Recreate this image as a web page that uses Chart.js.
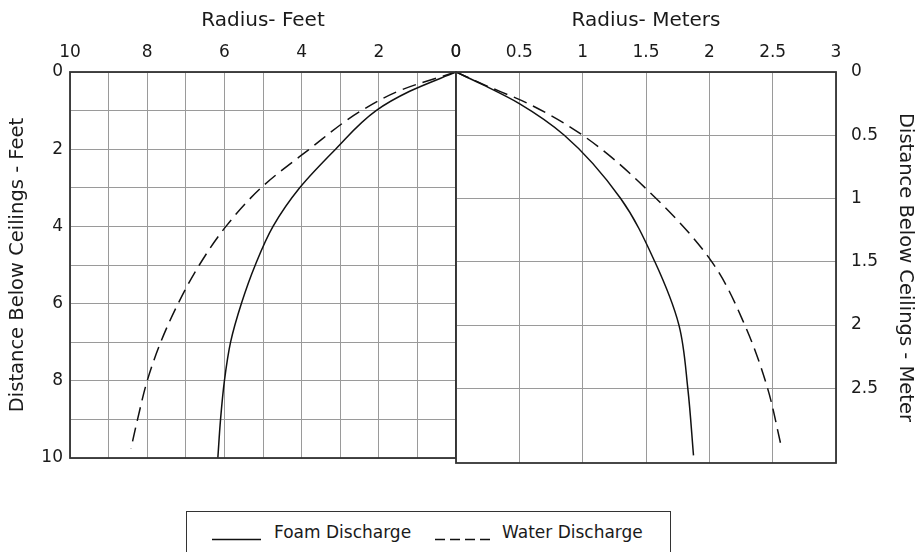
<!DOCTYPE html>
<html>
<head>
<meta charset="utf-8">
<script src="https://cdn.jsdelivr.net/npm/chart.js@4.4.0/dist/chart.umd.min.js"></script>
<style>
  body { margin: 0; background: #fff; width: 921px; height: 552px; overflow: hidden; position: relative; font-family: "DejaVu Sans", sans-serif; }
  #leftBox { position: absolute; left: 0; top: 0; width: 462px; height: 470px; }
  #rightBox { position: absolute; left: 450px; top: 0; width: 471px; height: 475px; }
  #legend { position: absolute; left: 186px; top: 511px; width: 485px; height: 50px; border: 1px solid #333; box-sizing: border-box; font-size: 17px; color: #1a1a1a; }
  #legend span { position: absolute; top: 10px; white-space: nowrap; }
  #legend svg { position: absolute; top: 26px; }
</style>
</head>
<body>
<div id="leftBox"><canvas id="feetChart"></canvas></div>
<div id="rightBox"><canvas id="meterChart"></canvas></div>
<div id="legend">
  <svg style="left:25px" width="50" height="3"><line x1="0" y1="1.5" x2="49" y2="1.5" stroke="#111" stroke-width="1.3"/></svg>
  <span style="left:87px">Foam Discharge</span>
  <svg style="left:248px" width="56" height="3"><line x1="0" y1="1.5" x2="56" y2="1.5" stroke="#111" stroke-width="1.3" stroke-dasharray="10 5"/></svg>
  <span style="left:315px">Water Discharge</span>
</div>
<script>
console.log("JS connected to chart!");

// Feet side (left panel): radius vs distance below ceiling
const feetFoamDepth = [0, 0.5, 1, 2, 3, 4, 5, 6, 7, 8, 9, 10];
const feetFoamRadius = [0, 1.2, 2.07, 3.12, 4.05, 4.74, 5.2, 5.56, 5.84, 6.0, 6.1, 6.17];
const feetWaterDepth = [0, 0.45, 1, 2, 3, 4, 5, 6, 7, 8, 9, 9.75];
const feetWaterRadius = [0, 1.38, 2.45, 3.8, 5.05, 5.96, 6.65, 7.2, 7.65, 8.0, 8.25, 8.42];

// Meter side (right panel)
const meterFoamDepth = [0, 0.1, 0.25, 0.5, 1.0, 1.5, 2.0, 2.5, 3.03];
const meterFoamRadius = [0, 0.21, 0.5, 0.855, 1.3, 1.57, 1.76, 1.83, 1.875];
const meterWaterDepth = [0, 0.1, 0.25, 0.5, 1.0, 1.5, 2.0, 2.5, 2.95];
const meterWaterRadius = [0, 0.22, 0.57, 1.0, 1.58, 2.02, 2.28, 2.46, 2.566];

// tick labels
const feetTicks = [0, 2, 4, 6, 8, 10];
const meterXTicks = [0, 0.5, 1, 1.5, 2, 2.5, 3];
const meterYTicks = [0, 0.5, 1, 1.5, 2, 2.5];

const tickFont = { family: 'DejaVu Sans', size: 17 };
const xTitleFont = { family: 'DejaVu Sans', size: 20 };
const yTitleFont = { family: 'DejaVu Sans', size: 19.5 };
const textColor = '#1a1a1a';
const gridColor = '#9a9a9a';

function toPoints(xs, ys) {
  return xs.map((x, i) => ({ x: x, y: ys[i] }));
}

// depth runs down the y axis, so smooth the curve along y
function lineSet(label, xs, ys, dashed) {
  return {
    label: label,
    data: toPoints(xs, ys),
    indexAxis: 'y',
    showLine: true,
    borderColor: '#111',
    borderWidth: 1.5,
    borderDash: dashed ? [14, 7] : [],
    pointRadius: 0,
    cubicInterpolationMode: 'monotone',
    fill: false
  };
}

// no extra label padding, layout padding decides the plot box
function fixSize(w, h) {
  return s => {
    if (w !== null) s.width = w;
    if (h !== null) s.height = h;
    s.paddingLeft = 0; s.paddingRight = 0; s.paddingTop = 0; s.paddingBottom = 0;
  };
}

// frame around the plot area
const framePlugin = {
  id: 'frame',
  afterDatasetsDraw(chart) {
    const a = chart.chartArea;
    const c = chart.ctx;
    c.save();
    c.strokeStyle = '#333';
    c.lineWidth = 1.8;
    c.strokeRect(a.left, a.top, a.right - a.left, a.bottom - a.top);
    c.restore();
  }
};

Chart.defaults.font.family = 'DejaVu Sans';
Chart.defaults.color = textColor;

// left chart, feet
new Chart(document.getElementById('feetChart'), {
  type: 'scatter',
  data: {
    datasets: [
      lineSet('Foam Discharge', feetFoamRadius, feetFoamDepth, false),
      lineSet('Water Discharge', feetWaterRadius, feetWaterDepth, true)
    ]
  },
  options: {
    responsive: true,
    maintainAspectRatio: false,
    animation: false,
    layout: { padding: { left: 0, right: 6, top: 0, bottom: 12 } },
    plugins: { legend: { display: false }, tooltip: { enabled: false } },
    scales: {
      x: {
        type: 'linear', position: 'top', min: 0, max: 10, reverse: true,
        afterFit: fixSize(null, 72),
        ticks: { stepSize: 1, font: tickFont, padding: 9, maxRotation: 0,
          callback: v => feetTicks.includes(v) ? String(v) : '' },
        grid: { color: gridColor, drawTicks: false },
        border: { display: false },
        title: { display: true, text: 'Radius- Feet', font: xTitleFont, padding: { top: 9, bottom: 0 } }
      },
      y: {
        type: 'linear', position: 'left', min: 0, max: 10, reverse: true,
        afterFit: fixSize(70, null),
        ticks: { stepSize: 1, font: tickFont, padding: 7,
          callback: v => feetTicks.includes(v) ? String(v) : '' },
        grid: { color: gridColor, drawTicks: false },
        border: { display: false },
        title: { display: true, text: 'Distance Below Ceilings - Feet', font: yTitleFont, padding: { top: 6, bottom: 0 } }
      }
    }
  },
  plugins: [framePlugin]
});

// right chart, meters
new Chart(document.getElementById('meterChart'), {
  type: 'scatter',
  data: {
    datasets: [
      lineSet('Foam Discharge', meterFoamRadius, meterFoamDepth, false),
      lineSet('Water Discharge', meterWaterRadius, meterWaterDepth, true)
    ]
  },
  options: {
    responsive: true,
    maintainAspectRatio: false,
    animation: false,
    layout: { padding: { left: 6, right: 0, top: 0, bottom: 12 } },
    plugins: { legend: { display: false }, tooltip: { enabled: false } },
    scales: {
      x: {
        type: 'linear', position: 'top', min: 0, max: 3,
        afterFit: fixSize(null, 72),
        afterBuildTicks: s => { s.ticks = meterXTicks.map(v => ({ value: v })); },
        ticks: { font: tickFont, padding: 9, maxRotation: 0, callback: v => String(v) },
        grid: { color: gridColor, drawTicks: false },
        border: { display: false },
        title: { display: true, text: 'Radius- Meters', font: xTitleFont, padding: { top: 9, bottom: 0 } }
      },
      y: {
        type: 'linear', position: 'right', min: 0, max: 3.09, reverse: true,
        afterFit: fixSize(85, null),
        afterBuildTicks: s => { s.ticks = meterYTicks.map(v => ({ value: v })); },
        ticks: { font: tickFont, padding: 15, callback: v => String(v) },
        grid: { color: gridColor, drawTicks: false },
        border: { display: false },
        title: { display: true, text: 'Distance Below Ceilings - Meter', font: yTitleFont, padding: { top: 4, bottom: 0 } }
      }
    }
  },
  plugins: [framePlugin]
});
</script>
</body>
</html>
